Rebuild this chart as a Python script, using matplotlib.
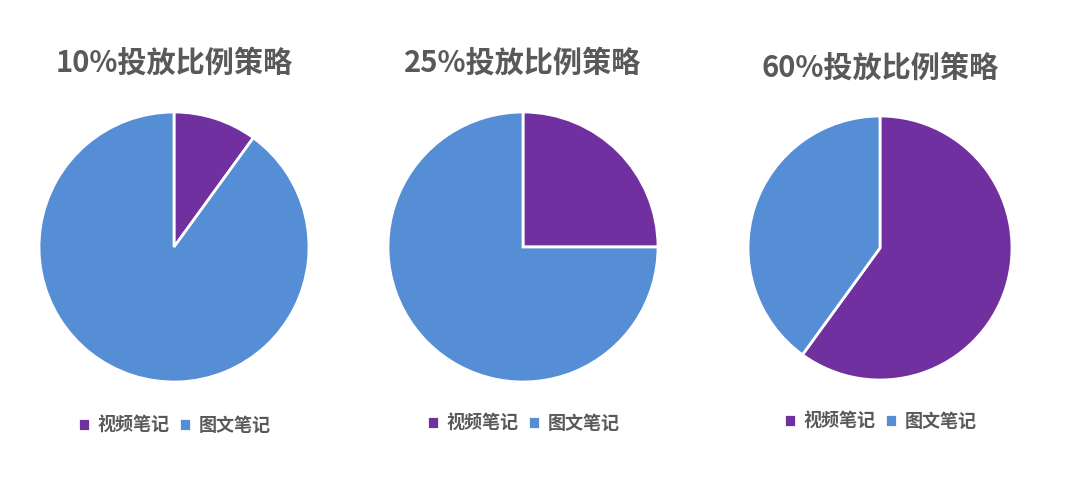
import matplotlib.pyplot as plt

plt.rcParams['font.family'] = ['Noto Sans CJK SC', 'DejaVu Sans']

# 数据
titles = ['10%投放比例策略', '25%投放比例策略', '60%投放比例策略']
labels = ['视频笔记', '图文笔记']
video_share = [10, 25, 60]
colors = ['#7030A0', '#558ED5']
text_color = '#595959'

W, H = 1075, 480
fig = plt.figure(figsize=(W / 100, H / 100), dpi=100)

# 每个饼图的中心和半径(像素)
centers = [(174, 247, 135), (523, 247, 135), (880, 248, 132)]
title_y = [63, 63, 68]
legend_y = [425, 423, 421]

for i, (cx, cy, r) in enumerate(centers):
    ax = fig.add_axes([(cx - r) / W, (H - cy - r) / H, 2 * r / W, 2 * r / H])
    vals = [video_share[i], 100 - video_share[i]]
    wedges, _ = ax.pie(vals, colors=colors, startangle=90, counterclock=False,
                       wedgeprops=dict(edgecolor='white', linewidth=2))
    ax.set_xlim(-1.0, 1.0)
    ax.set_ylim(-1.0, 1.0)
    ax.set_aspect('equal')
    fig.text(cx / W, 1 - title_y[i] / H, titles[i], ha='center', va='center',
             fontsize=21, fontweight='bold', color=text_color)
    leg = ax.legend(wedges, labels, loc='center', ncol=2, frameon=False,
                    bbox_to_anchor=(cx / W, 1 - legend_y[i] / H),
                    bbox_transform=fig.transFigure,
                    handlelength=0.7, handleheight=0.7, handletextpad=0.4,
                    columnspacing=0.5,
                    prop=dict(size=13, weight='bold'))
    for t in leg.get_texts():
        t.set_color(text_color)

fig.savefig('out.png', dpi=100, facecolor='white')
